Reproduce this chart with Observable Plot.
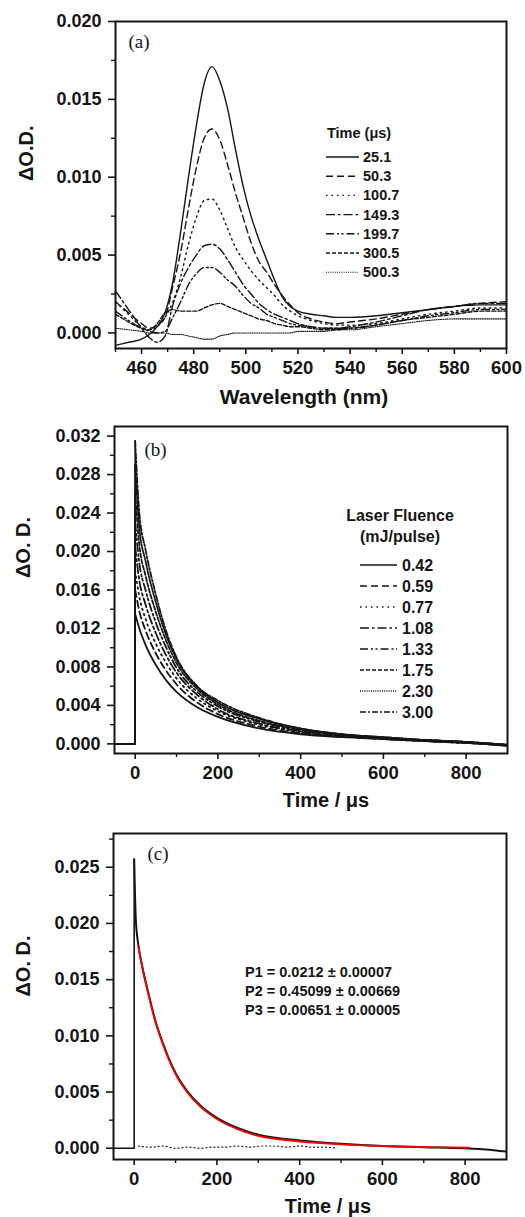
<!DOCTYPE html>
<html><head><meta charset="utf-8">
<script src="https://cdn.jsdelivr.net/npm/d3@7"></script>
<script src="https://cdn.jsdelivr.net/npm/@observablehq/plot@0.6"></script>
<style>
body{margin:0;background:#fff;}
#wrap{position:relative;width:525px;height:1217px;overflow:hidden;background:#fff;}
#wrap > svg{display:block;}
.ov{position:absolute;left:0;top:0;}
</style></head><body><div id="wrap"></div>
<script>
// ---------- Panel (a): transient spectra ----------
const wavelengths = [450,455,460,463,466,469,472,475,478,481,484,487,490,493,496,499,502,505,508,511,514,517,520,525,530,535,540,550,560,570,580,590,600];
const timeLabelsA = ["25.1","50.3","100.7","149.3","199.7","300.5","500.3"];
const spec251 = [-0.0008,-0.0006,-0.0004,-0.0001,0.0004,0.0013,0.0033,0.0065,0.0100,0.0133,0.0160,0.0171,0.0162,0.0144,0.0118,0.0094,0.0075,0.0060,0.0047,0.0034,0.0023,0.0017,0.0014,0.0012,0.0011,0.0010,0.0010,0.0011,0.0013,0.0015,0.0017,0.0018,0.0018];
const spec503 = [0.0020,0.0013,0.0006,0.0003,0.0005,0.0010,0.0030,0.0052,0.0080,0.0106,0.0125,0.0131,0.0124,0.0108,0.0090,0.0074,0.0058,0.0046,0.0039,0.0031,0.0024,0.0018,0.0013,0.0009,0.0007,0.0006,0.0007,0.0009,0.0012,0.0015,0.0017,0.0019,0.0020];
const spec1007 = [0.0020,0.0012,0.0004,0.0002,0.0004,0.0010,0.0020,0.0036,0.0057,0.0074,0.0085,0.0086,0.0079,0.0067,0.0055,0.0047,0.0040,0.0034,0.0029,0.0024,0.0018,0.0014,0.0011,0.0008,0.0006,0.0005,0.0005,0.0006,0.0009,0.0012,0.0014,0.0016,0.0016];
const spec1493 = [0.0027,0.0015,0.0003,-0.0003,-0.0006,-0.0002,0.0018,0.0032,0.0042,0.0050,0.0056,0.0057,0.0054,0.0047,0.0039,0.0031,0.0025,0.0019,0.0015,0.0012,0.0010,0.0008,0.0006,0.0004,0.0003,0.0003,0.0004,0.0007,0.0011,0.0015,0.0017,0.0019,0.0019];
const spec1997 = [0.0014,0.0008,0.0003,0.0001,0.0000,0.0001,0.0010,0.0020,0.0031,0.0038,0.0042,0.0042,0.0039,0.0034,0.0030,0.0024,0.0019,0.0016,0.0012,0.0010,0.0008,0.0006,0.0005,0.0004,0.0003,0.0003,0.0003,0.0005,0.0008,0.0011,0.0013,0.0015,0.0015];
const spec3005 = [0.0012,0.0007,0.0003,0.0002,0.0006,0.0013,0.0015,0.0014,0.0014,0.0014,0.0016,0.0018,0.0019,0.0017,0.0015,0.0013,0.0011,0.0009,0.0008,0.0006,0.0005,0.0004,0.0004,0.0003,0.0002,0.0002,0.0003,0.0005,0.0008,0.0010,0.0012,0.0014,0.0014];
const spec5003 = [0.0003,0.0002,0.0001,0.0000,0.0000,0.0000,-0.0001,-0.0001,-0.0002,-0.0003,-0.0004,-0.0004,-0.0002,-0.0001,0.0000,0.0000,0.0000,0.0000,0.0000,0.0000,0.0000,0.0000,0.0001,0.0001,0.0001,0.0002,0.0002,0.0004,0.0006,0.0008,0.0009,0.0009,0.0009];
const spectraA = [spec251,spec503,spec1007,spec1493,spec1997,spec3005,spec5003];
const xTicksA = [460,480,500,520,540,560,580,600];
const xMinorA = [450,470,490,510,530,550,570,590];
const yTicksA = [0,0.005,0.010,0.015,0.020];
const yMinorA = [0.0025,0.0075,0.0125,0.0175];

// ---------- Panel (b): decays vs laser fluence ----------
const fluences = ["0.42","0.59","0.77","1.08","1.33","1.75","2.30","3.00"];
const decayTimes = [0,10,25,50,75,100,150,200,300,400,500,600,700,800,900];
const dec042 = [0.0135,0.0120,0.0103,0.0082,0.0066,0.0054,0.0038,0.0028,0.0016,0.0010,0.0007,0.0005,0.0003,0.0001,-0.0002];
const dec059 = [0.0160,0.0138,0.0118,0.0094,0.0076,0.0062,0.0043,0.0031,0.0018,0.0011,0.0008,0.0005,0.0003,0.0001,-0.0002];
const dec077 = [0.0180,0.0153,0.0130,0.0104,0.0084,0.0068,0.0047,0.0034,0.0020,0.0012,0.0008,0.0005,0.0003,0.0001,-0.0001];
const dec108 = [0.0205,0.0170,0.0145,0.0115,0.0092,0.0074,0.0051,0.0036,0.0021,0.0013,0.0009,0.0006,0.0003,0.0001,-0.0001];
const dec133 = [0.0230,0.0188,0.0160,0.0126,0.0100,0.0079,0.0054,0.0039,0.0023,0.0014,0.0009,0.0006,0.0004,0.0002,-0.0001];
const dec175 = [0.0260,0.0207,0.0175,0.0137,0.0107,0.0084,0.0057,0.0041,0.0024,0.0015,0.0010,0.0006,0.0004,0.0002,-0.0001];
const dec230 = [0.0290,0.0225,0.0190,0.0147,0.0113,0.0088,0.0059,0.0043,0.0026,0.0016,0.0010,0.0007,0.0004,0.0002,-0.0001];
const dec300 = [0.0315,0.0240,0.0202,0.0155,0.0117,0.0090,0.0060,0.0045,0.0027,0.0016,0.0010,0.0007,0.0004,0.0002,-0.0001];
const decaysB = [dec042,dec059,dec077,dec108,dec133,dec175,dec230,dec300];
const preTimes = [-50,0];
const preValues = [0,0];
const xTicksBC = [0,200,400,600,800];
const xMinorBC = [100,300,500,700];
const yTicksB = [0,0.004,0.008,0.012,0.016,0.020,0.024,0.028,0.032];
const yMinorB = [0.002,0.006,0.010,0.014,0.018,0.022,0.026,0.030];

// ---------- Panel (c): decay with fit ----------
const traceTimes = [0,4,10,20,35,50,75,100,130,160,200,250,300,350,400,500,600,700,800,850,900];
const traceValues = [0.0257,0.0203,0.0181,0.0161,0.0137,0.0115,0.0088,0.0067,0.0050,0.0038,0.0027,0.0018,0.0012,0.0009,0.0007,0.0004,0.0002,0.0001,0.0000,-0.0001,-0.0003];
const fitTimes = [10,20,35,50,75,100,130,160,200,250,300,350,400,500,600,700,810];
const fitValues = [0.0180,0.0160,0.0136,0.0114,0.0087,0.0066,0.0049,0.0037,0.0026,0.0017,0.0011,0.0008,0.0006,0.00035,0.0002,0.0001,0.00005];
const residTimes = [10,40,70,100,130,160,190,220,250,280,310,340,370,400,430,460,490];
const residValues = [0.0002,0.0001,0.0002,0.0000,0.0001,0.0000,0.0001,0.0001,0.0002,0.0001,0.0002,0.0002,0.0001,0.0002,0.0001,0.0001,0.0000];
const yTicksC = [0,0.005,0.010,0.015,0.020,0.025];
const yMinorC = [0.0025,0.0075,0.0125,0.0175,0.0225,0.0275];
const fitParams = ["P1 = 0.0212 \u00b1 0.00007","P2 = 0.45099 \u00b1 0.00669","P3 = 0.00651 \u00b1 0.00005"];

// ---------- styles ----------
const INK = "#151515";
const SANS = "'Liberation Sans', Arial, Helvetica, sans-serif";
const SERIF = "'Liberation Serif', 'Times New Roman', serif";
const dashesA = [null,"7,4","1.5,4","9,3,2.5,3","8,3,2,2.5,2,3","4,2","1,1.2"];
const dashesB = [null,"7,4","1.5,4","9,3,2.5,3","8,3,2,2.5,2,3","4,2","1,1.2","6,2,2,2"];
const fmt3 = d3.format(".3f");

function axes(xT, xM, yT, yM) {
  return [
    Plot.axisY({ticks: yT, tickSize: 7, tickPadding: 7, tickFormat: fmt3, label: null, strokeWidth: 1.6, fontSize: 18, fontWeight: "bold"}),
    Plot.axisY({ticks: yM, tickSize: 4, tickFormat: () => "", label: null, strokeWidth: 1.4}),
    Plot.axisX({ticks: xT, tickSize: 6, tickPadding: 6, tickFormat: d => String(d), label: null, strokeWidth: 1.6, fontSize: 18.5, fontWeight: "bold"}),
    Plot.axisX({ticks: xM, tickSize: 4, tickFormat: () => "", label: null, strokeWidth: 1.4})
  ];
}
const baseStyle = {fontFamily: SANS, fontWeight: "bold", fontSize: "18px", color: INK, background: "#fff"};

// ---------- Plot A ----------
const linesA = spectraA.map((s, i) => Plot.line(wavelengths.map((w, j) => ({w, v: s[j]})), {
  x: "w", y: "v", curve: "monotone-x", stroke: INK, strokeWidth: i === 6 ? 1.1 : 1.4,
  strokeDasharray: dashesA[i] || undefined, clip: true
}));
const plotA = Plot.plot({
  width: 525, height: 410, marginTop: 21, marginBottom: 62, marginLeft: 115, marginRight: 19,
  x: {domain: [450, 600]}, y: {domain: [-0.001, 0.020]},
  style: baseStyle,
  marks: [
    ...axes(xTicksA, xMinorA, yTicksA, yMinorA),
    ...linesA,
    Plot.frame({stroke: INK, strokeWidth: 2}),
    Plot.text(["\u0394O.D."], {text: d => d, frameAnchor: "left", rotate: -90, dx: -89, dy: -4, fontSize: 20, fontWeight: "bold"}),
    Plot.text(["Wavelength (nm)"], {text: d => d, frameAnchor: "bottom", dx: -7, dy: 49, lineAnchor: "middle", fontSize: 21, fontWeight: "bold"}),
    Plot.text(["(a)"], {text: d => d, frameAnchor: "top-left", dx: 13, dy: 20, textAnchor: "start", lineAnchor: "middle", fontFamily: SERIF, fontWeight: "normal", fontSize: 19})
  ]
});

// ---------- Plot B ----------
const linesB = [];
decaysB.forEach((s, i) => {
  const pre = preTimes.map((t, j) => ({t, v: preValues[j]})).concat([{t: 0, v: s[0]}]);
  linesB.push(Plot.line(pre, {x: "t", y: "v", stroke: INK, strokeWidth: 1.6, clip: true}));
  linesB.push(Plot.line(decayTimes.map((t, j) => ({t, v: s[j]})), {
    x: "t", y: "v", curve: "monotone-x", stroke: INK, strokeWidth: 1.8,
    strokeDasharray: dashesB[i] || undefined, clip: true
  }));
});
const plotB = Plot.plot({
  width: 525, height: 405, marginTop: 16, marginBottom: 62, marginLeft: 114, marginRight: 18,
  x: {domain: [-50, 900]}, y: {domain: [-0.001, 0.033]},
  style: baseStyle,
  marks: [
    ...axes(xTicksBC, xMinorBC, yTicksB, yMinorB),
    ...linesB,
    Plot.frame({stroke: INK, strokeWidth: 2}),
    Plot.text(["\u0394O. D."], {text: d => d, frameAnchor: "left", rotate: -90, dx: -91, dy: -12, fontSize: 20, fontWeight: "bold"}),
    Plot.text(["Time / \u03bcs"], {text: d => d, frameAnchor: "bottom", dx: 15, dy: 47, lineAnchor: "middle", fontSize: 20, fontWeight: "bold"}),
    Plot.text(["(b)"], {text: d => d, frameAnchor: "top-left", dx: 30, dy: 23, textAnchor: "start", lineAnchor: "middle", fontFamily: SERIF, fontWeight: "normal", fontSize: 19})
  ]
});

// ---------- Plot C ----------
const plotC = Plot.plot({
  width: 525, height: 402, marginTop: 18, marginBottom: 58, marginLeft: 113, marginRight: 19,
  x: {domain: [-50, 900]}, y: {domain: [-0.001, 0.028]},
  style: baseStyle,
  marks: [
    ...axes(xTicksBC, xMinorBC, yTicksC, yMinorC),
    Plot.line(preTimes.map((t, j) => ({t, v: preValues[j]})).concat([{t: 0, v: traceValues[0]}]), {x: "t", y: "v", stroke: INK, strokeWidth: 1.6}),
    Plot.line(traceTimes.map((t, j) => ({t, v: traceValues[j]})), {x: "t", y: "v", curve: "monotone-x", stroke: INK, strokeWidth: 2, clip: true}),
    Plot.line(residTimes.map((t, j) => ({t, v: residValues[j]})), {x: "t", y: "v", curve: "monotone-x", stroke: INK, strokeWidth: 1.2, strokeDasharray: "1,3"}),
    Plot.line(fitTimes.map((t, j) => ({t, v: fitValues[j]})), {x: "t", y: "v", curve: "monotone-x", stroke: "#f00000", strokeWidth: 1.8}),
    Plot.frame({stroke: INK, strokeWidth: 2}),
    Plot.text(["\u0394O. D."], {text: d => d, frameAnchor: "left", rotate: -90, dx: -90, dy: 0, fontSize: 20, fontWeight: "bold"}),
    Plot.text(["Time / \u03bcs"], {text: d => d, frameAnchor: "bottom", dx: 18, dy: 47, lineAnchor: "middle", fontSize: 20, fontWeight: "bold"}),
    Plot.text(["(c)"], {text: d => d, frameAnchor: "top-left", dx: 34, dy: 20, textAnchor: "start", lineAnchor: "middle", fontFamily: SERIF, fontWeight: "normal", fontSize: 19})
  ]
});

const wrap = document.getElementById("wrap");
wrap.appendChild(plotA);
wrap.appendChild(plotB);
wrap.appendChild(plotC);

// ---------- overlay: legends and fit parameters ----------
const ov = d3.select(wrap).append("svg").attr("class", "ov").attr("width", 525).attr("height", 1217)
  .style("font-family", SANS).style("font-weight", "bold").style("fill", INK);

function legend(title, titleAnchor, titleX, titleYs, labels, dashes, x0, x1, tx, y0, step, fs) {
  title.forEach((t, k) => ov.append("text").attr("x", titleX).attr("y", titleYs[k]).attr("text-anchor", titleAnchor)
    .attr("dominant-baseline", "central").style("font-size", fs + "px").text(t));
  labels.forEach((lab, i) => {
    const y = y0 + i * step;
    ov.append("line").attr("x1", x0).attr("x2", x1).attr("y1", y).attr("y2", y)
      .attr("stroke", INK).attr("stroke-width", i === labels.length - 1 && dashes === dashesA ? 1.1 : 1.4)
      .attr("stroke-dasharray", dashes[i] || null);
    ov.append("text").attr("x", tx).attr("y", y).attr("dominant-baseline", "central")
      .style("font-size", fs + "px").text(lab);
  });
}
legend(["Time (\u03bcs)"], "start", 327, [133], timeLabelsA, dashesA, 326, 359, 363, 157, 19.2, 14.5);
legend(["Laser Fluence", "(mJ/pulse)"], "middle", 400, [515, 536], fluences, dashesB, 360, 397, 402, 565, 21, 16);

fitParams.forEach((p, i) => {
  ov.append("text").attr("x", 245).attr("y", 972 + i * 18.8).attr("dominant-baseline", "central")
    .style("font-size", "14.5px").text(p);
});
</script></body></html>
